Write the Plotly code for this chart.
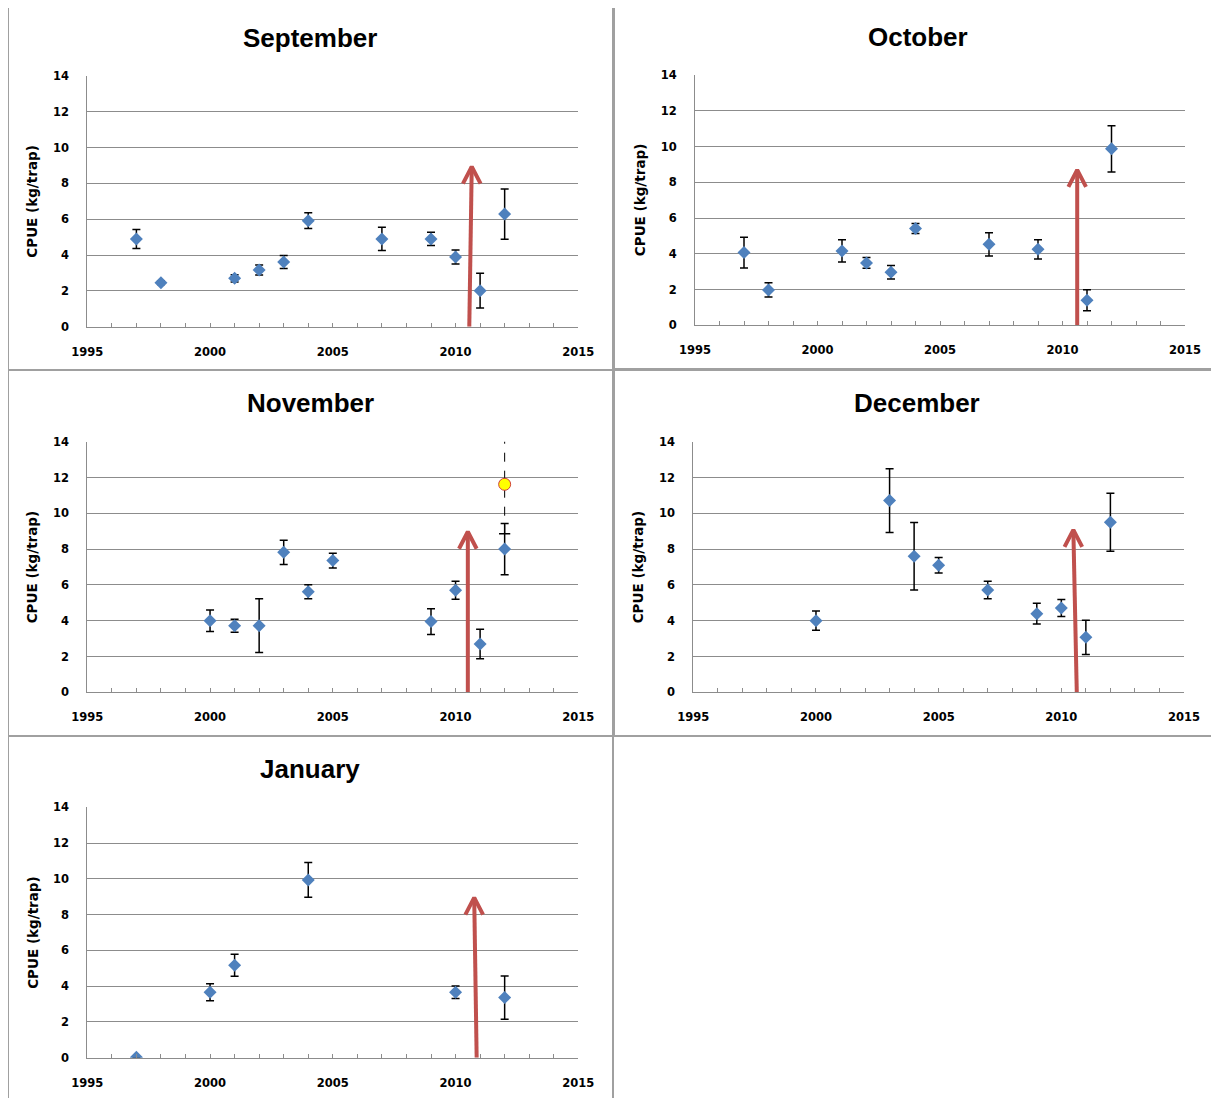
import plotly.graph_objects as go

# ---------------- data ----------------
months = ["September", "October", "November", "December", "January"]

sep_years = [1997, 1998, 2001, 2002, 2003, 2004, 2007, 2009, 2010, 2011, 2012]
sep_cpue = [4.9, 2.46, 2.7, 3.17, 3.61, 5.92, 4.9, 4.9, 3.89, 2.01, 6.29]
sep_err = [0.53, 0.1, 0.2, 0.28, 0.36, 0.44, 0.65, 0.37, 0.39, 0.97, 1.4]

oct_years = [1997, 1998, 2001, 2002, 2003, 2004, 2007, 2009, 2011, 2012]
oct_cpue = [4.07, 1.98, 4.16, 3.49, 2.97, 5.41, 4.53, 4.25, 1.4, 9.87]
oct_err = [0.86, 0.4, 0.62, 0.3, 0.38, 0.28, 0.65, 0.54, 0.59, 1.29]

nov_years = [2000, 2001, 2002, 2003, 2004, 2005, 2009, 2010, 2011, 2012]
nov_cpue = [4.0, 3.72, 3.72, 7.82, 5.62, 7.36, 3.95, 5.7, 2.7, 8.0]
nov_err = [0.6, 0.36, 1.5, 0.68, 0.39, 0.41, 0.72, 0.5, 0.82, 1.43]

nov_extra_year = [2012]
nov_extra_cpue = [11.62]
nov_extra_err = [2.76]

dec_years = [2000, 2003, 2004, 2005, 2007, 2009, 2010, 2011, 2012]
dec_cpue = [4.0, 10.71, 7.6, 7.1, 5.72, 4.39, 4.71, 3.07, 9.5]
dec_err = [0.54, 1.78, 1.89, 0.43, 0.49, 0.58, 0.47, 0.96, 1.62]

jan_years = [1997, 2000, 2001, 2004, 2010, 2012]
jan_cpue = [0.02, 3.66, 5.17, 9.94, 3.66, 3.36]
jan_err = [0.0, 0.47, 0.62, 0.97, 0.35, 1.21]

# arrows marking 2010/2011 (base x, tip x, tip y)
arrow_base_x = [2010.56, 2010.6, 2010.5, 2010.63, 2010.86]
arrow_tip_x = [2010.66, 2010.6, 2010.5, 2010.49, 2010.76]
arrow_tip_y = [8.94, 8.69, 8.97, 9.07, 8.95]

x_tick_vals = [1995, 2000, 2005, 2010, 2015]
x_tick_text = ["1995", "2000", "2005", "2010", "2015"]
y_tick_vals = [0, 2, 4, 6, 8, 10, 12, 14]
y_tick_text = ["0", "2", "4", "6", "8", "10", "12", "14"]

series = [
    (sep_years, sep_cpue, sep_err),
    (oct_years, oct_cpue, oct_err),
    (nov_years, nov_cpue, nov_err),
    (dec_years, dec_cpue, dec_err),
    (jan_years, jan_cpue, jan_err),
]

# ---------------- layout geometry (page pixels) ----------------
OFF = 8  # default page margin around the plotly div
W, H = 1219 - OFF, 1098 - OFF
# plot areas: (left, right, top, bottom) in page pixels
plot_px = [
    (87.3, 578.3, 76.0, 326.7),
    (695.0, 1185.0, 75.0, 325.3),
    (87.3, 578.3, 441.7, 692.3),
    (693.3, 1184.0, 441.7, 692.3),
    (87.3, 578.3, 807.3, 1057.7),
]
# panel boxes: (x0, x1, y0, y1) page px
panel_px = [
    (8, 613, 5, 370),
    (614, 1218, 4, 369),
    (8, 613, 370, 736),
    (614, 1218, 370, 736),
    (8, 613, 736, 1104),
]
title_pos = [(310, 38), (918, 37), (310, 403), (917, 403), (310, 769)]


def px_x(p):
    return (p - OFF) / W


def px_y(p):
    return 1 - (p - OFF) / H


BLUE = "#4f81bd"
GRID = "#8c8c8c"
ARROW = "#c0504d"
TICKFONT = dict(family="DejaVu Sans", size=11.5, color="black", weight="bold")

fig = go.Figure()
layout = dict(
    width=W, height=H, autosize=False,
    margin=dict(l=0, r=0, t=0, b=0, pad=0, autoexpand=False),
    paper_bgcolor="white", plot_bgcolor="white",
    showlegend=False,
    shapes=[], annotations=[],
)

for i, ((xs, ys, es), (l, r, t, b)) in enumerate(zip(series, plot_px)):
    n = i + 1
    xa = "x" if n == 1 else f"x{n}"
    ya = "y" if n == 1 else f"y{n}"
    xkey = "xaxis" if n == 1 else f"xaxis{n}"
    ykey = "yaxis" if n == 1 else f"yaxis{n}"
    layout[xkey] = dict(
        domain=[px_x(l), px_x(r)], anchor=ya, range=[1995, 2015], automargin=False,
        tickmode="array", tickvals=x_tick_vals, ticktext=x_tick_text,
        showgrid=False, zeroline=False, showline=True, linecolor=GRID, linewidth=1,
        ticks="inside", ticklen=4, tickcolor=GRID, tickwidth=1,
        minor=dict(dtick=1, tick0=1995, ticks="inside", ticklen=4, tickcolor=GRID, showgrid=False),
        tickfont=TICKFONT, ticklabelstandoff=14, fixedrange=True,
    )
    layout[ykey] = dict(
        domain=[px_y(b), px_y(t)], anchor=xa, range=[0, 14], automargin=False,
        tickmode="array", tickvals=y_tick_vals, ticktext=y_tick_text,
        showgrid=True, gridcolor=GRID, gridwidth=1, zeroline=False,
        showline=True, linecolor=GRID, linewidth=1, ticks="",
        tickfont=TICKFONT, ticklabelstandoff=15, fixedrange=True,
    )

    # arrow shaft + chevron head
    bx, tx, ty = arrow_base_x[i], arrow_tip_x[i], arrow_tip_y[i]
    fig.add_trace(go.Scatter(
        x=[bx, tx], y=[0, ty], mode="lines", xaxis=xa, yaxis=ya,
        line=dict(color=ARROW, width=4), hoverinfo="skip"))
    fig.add_trace(go.Scatter(
        x=[tx - 0.36, tx, tx + 0.36], y=[ty - 0.95, ty, ty - 0.95], mode="lines",
        xaxis=xa, yaxis=ya, line=dict(color=ARROW, width=4), hoverinfo="skip"))

    # data with error bars
    fig.add_trace(go.Scatter(
        x=xs, y=ys, mode="markers", xaxis=xa, yaxis=ya,
        marker=dict(symbol="diamond", size=10, color=BLUE, line=dict(width=0)),
        error_y=dict(type="data", array=es, visible=True, color="black", thickness=1.5, width=4),
    ))

    if n == 3:
        # dashed error bar of the yellow point
        lo = [v - e for v, e in zip(nov_extra_cpue, nov_extra_err)]
        hi = [v + e for v, e in zip(nov_extra_cpue, nov_extra_err)]
        fig.add_trace(go.Scatter(
            x=nov_extra_year * 2, y=lo + hi, mode="lines+markers", xaxis=xa, yaxis=ya,
            line=dict(color="black", width=1, dash="dash"),
            marker=dict(symbol="line-ew", size=8, line=dict(color="black", width=1.5)),
            hoverinfo="skip"))
        fig.add_trace(go.Scatter(
            x=nov_extra_year, y=nov_extra_cpue, mode="markers", xaxis=xa, yaxis=ya,
            marker=dict(symbol="circle", size=12, color="#ffff00", line=dict(color="#d0403a", width=1)),
        ))

    # panel box
    x0, x1, y0, y1 = panel_px[i]
    layout["shapes"].append(dict(
        type="rect", xref="paper", yref="paper",
        x0=px_x(x0), x1=px_x(x1), y0=px_y(y1), y1=px_y(y0),
        line=dict(color="#a0a0a0", width=2), fillcolor="rgba(0,0,0,0)", layer="below"))

    # title
    cx, cy = title_pos[i]
    layout["annotations"].append(dict(
        text=months[i], xref="paper", yref="paper", x=px_x(cx), y=px_y(cy),
        xanchor="center", yanchor="middle", showarrow=False,
        font=dict(family="Liberation Sans", size=26, color="black", weight="bold")))

    # y-axis title
    layout["annotations"].append(dict(
        text="CPUE (kg/trap)", xref="paper", yref="paper",
        x=px_x(l - 55), y=px_y((t + b) / 2), textangle=-90,
        xanchor="center", yanchor="middle", showarrow=False,
        font=dict(family="DejaVu Sans", size=13.5, color="black", weight="bold")))

fig.update_layout(**layout)
fig.write_html("out.html", config={"displayModeBar": False})
